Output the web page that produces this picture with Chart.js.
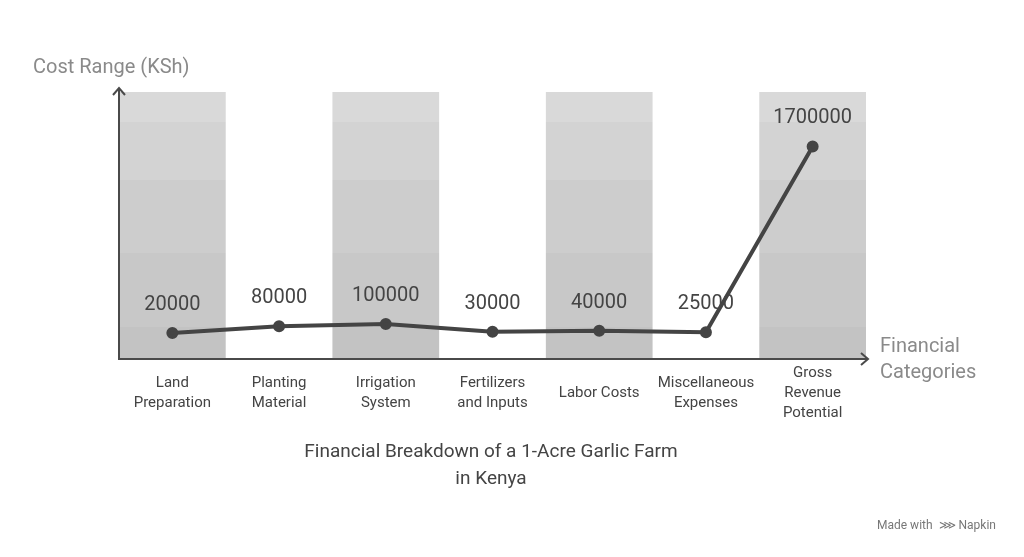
<!DOCTYPE html>
<html><head><meta charset="utf-8">
<script src="https://cdn.jsdelivr.net/npm/chart.js@4"></script>
<style>html,body{margin:0;background:#fff;}#w{position:relative;width:1024px;height:557px;}</style>
</head><body><div id="w"><canvas id="c" width="1024" height="557"></canvas></div>
<script>
const categories = [["Land","Preparation"],["Planting","Material"],["Irrigation","System"],["Fertilizers","and Inputs"],["Labor Costs"],["Miscellaneous","Expenses"],["Gross","Revenue","Potential"]];
const costValues = [20000, 80000, 100000, 30000, 40000, 25000, 1700000];
const yAxisTitle = "Cost Range (KSh)";
const xAxisTitle = ["Financial","Categories"];
const chartTitle = ["Financial Breakdown of a 1-Acre Garlic Farm","in Kenya"];

const FONT = "Roboto, 'Open Sans', sans-serif";
const deco = {
  id:'deco',
  beforeDatasetsDraw(ch){
    const {ctx, chartArea:a, scales:{x}} = ch;
    const w = (a.right - a.left)/categories.length;
    const stripes = [[a.top,122,'#d9d9d9'],[122,180,'#d3d3d3'],[180,253,'#cdcdcd'],[253,327,'#c8c8c8'],[327,a.bottom,'#c3c3c3']];
    ctx.save();
    categories.forEach((c,i)=>{
      if(i%2) return;
      const cx = x.getPixelForValue(i);
      stripes.forEach(s=>{ctx.fillStyle=s[2];ctx.fillRect(cx-w/2,s[0],w,s[1]-s[0]);});
    });
    ctx.strokeStyle='#4a4a4a';ctx.lineWidth=2;
    ctx.beginPath();ctx.moveTo(a.left,88);ctx.lineTo(a.left,a.bottom);ctx.lineTo(868,a.bottom);ctx.stroke();
    ctx.beginPath();ctx.moveTo(a.left-6,95);ctx.lineTo(a.left,88);ctx.lineTo(a.left+6,95);ctx.stroke();
    ctx.beginPath();ctx.moveTo(861,a.bottom-6);ctx.lineTo(868,a.bottom);ctx.lineTo(861,a.bottom+6);ctx.stroke();
    ctx.font='20px '+FONT;ctx.fillStyle='#8a8a8a';ctx.textAlign='left';ctx.textBaseline='middle';
    ctx.fillText(yAxisTitle,33,68);
    ctx.fillText(xAxisTitle[0],880,347);ctx.fillText(xAxisTitle[1],880,373);
    ctx.font='15px '+FONT;ctx.fillStyle='#444';ctx.textAlign='center';
    categories.forEach((c,i)=>{
      const cx=x.getPixelForValue(i);const n=c.length;
      c.forEach((t,j)=>ctx.fillText(t,cx,393+(j-(n-1)/2)*20));
    });
    ctx.font='19px '+FONT;ctx.fillStyle='#444';
    ctx.fillText(chartTitle[0],491,452);ctx.fillText(chartTitle[1],491,479);
    ctx.font='12px '+FONT;ctx.fillStyle='#777';ctx.textAlign='left';
    ctx.fillText('Made with  \u22D9 Napkin',877,526);
    ctx.restore();
  },
  afterDatasetsDraw(ch){
    const {ctx}=ch;const meta=ch.getDatasetMeta(0);
    ctx.save();ctx.font='20px '+FONT;ctx.fillStyle='#444';ctx.textAlign='center';ctx.textBaseline='middle';
    meta.data.forEach((p,i)=>ctx.fillText(String(costValues[i]),p.x,p.y-28));
    ctx.restore();
  }
};
new Chart(document.getElementById('c'),{
  type:'line',
  data:{labels:categories.map(c=>c.join(' ')),datasets:[{data:costValues,borderColor:'#444',borderWidth:4,pointRadius:4,pointBackgroundColor:'#444',pointBorderColor:'#444',tension:0}]},
  options:{responsive:false,animation:false,
    layout:{padding:{left:119,right:158,top:92,bottom:198}},
    plugins:{legend:{display:false},tooltip:{enabled:false}},
    scales:{x:{display:false,offset:true},y:{display:false,min:-215000,max:2190000}}
  },
  plugins:[deco]
});
</script></body></html>
